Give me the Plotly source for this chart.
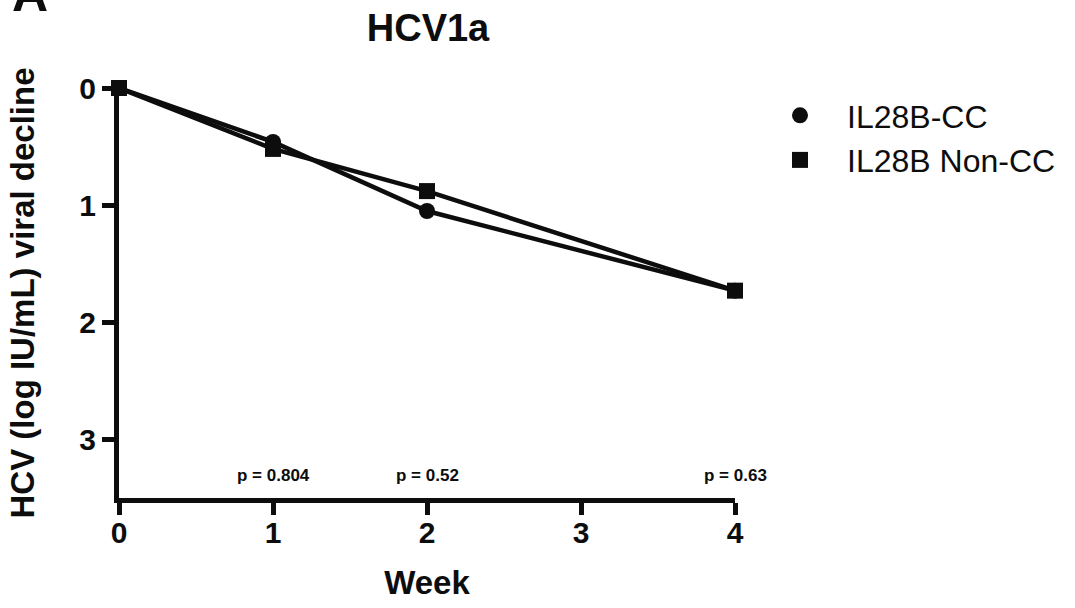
import plotly.graph_objects as go

weeks = [0, 1, 2, 4]
cc_decline = [0, 0.46, 1.05, 1.73]
noncc_decline = [0, 0.52, 0.88, 1.73]
p_weeks = [1, 2, 4]
p_labels = ["p = 0.804", "p = 0.52", "p = 0.63"]
p_level = 3.31
x_ticks = [0, 1, 2, 3, 4]
y_ticks = [0, 1, 2, 3]

FONT = "Liberation Sans, Arial, Helvetica, sans-serif"
BLACK = "#0d0d0d"

L, R, T, B = 119, 340, 88, 110
PW = 1075 - L - R
PH = 608 - T - B

fig = go.Figure()
fig.add_trace(go.Scatter(x=weeks, y=cc_decline, mode="lines+markers", name="IL28B-CC",
                         line=dict(color=BLACK, width=4.5),
                         marker=dict(symbol="circle", size=16, color=BLACK),
                         showlegend=False, cliponaxis=False))
fig.add_trace(go.Scatter(x=weeks, y=noncc_decline, mode="lines+markers", name="IL28B Non-CC",
                         line=dict(color=BLACK, width=4.5),
                         marker=dict(symbol="square", size=16, color=BLACK),
                         showlegend=False, cliponaxis=False))
# legend-only marker entries
fig.add_trace(go.Scatter(x=[None], y=[None], mode="markers", name="IL28B-CC",
                         marker=dict(symbol="circle", size=18, color=BLACK)))
fig.add_trace(go.Scatter(x=[None], y=[None], mode="markers", name="IL28B Non-CC",
                         marker=dict(symbol="square", size=16, color=BLACK)))

for xw, lab in zip(p_weeks, p_labels):
    fig.add_annotation(x=xw, y=p_level, text=f"<b>{lab}</b>", showarrow=False,
                       font=dict(family=FONT, size=17, color=BLACK),
                       xanchor="center", yanchor="middle")

fig.add_annotation(xref="paper", yref="paper", x=(10 - L) / PW, y=(PH + T - 24) / PH,
                   text="<b>A</b>", showarrow=False, xanchor="left", yanchor="bottom",
                   font=dict(family=FONT, size=50, color=BLACK))

fig.update_layout(
    width=1075, height=608,
    margin=dict(l=L, r=R, t=T, b=B, autoexpand=False),
    paper_bgcolor="white", plot_bgcolor="white",
    title=dict(text="<b>HCV1a</b>", x=428 / 1075, xanchor="center", y=1 - 28 / 608, yanchor="middle",
               font=dict(family=FONT, size=38, color=BLACK)),
    font=dict(family=FONT, color=BLACK),
    legend=dict(x=(753 - L) / PW, y=1.0, xanchor="left", yanchor="top",
                font=dict(family=FONT, size=32, color=BLACK),
                itemwidth=84, itemsizing="trace", bgcolor="rgba(0,0,0,0)"),
    xaxis=dict(range=[0, 4], tickvals=x_ticks, ticktext=[f"<b>{t}</b>" for t in x_ticks],
               showgrid=False, zeroline=False, showline=True, linecolor=BLACK, linewidth=5,
               ticks="outside", ticklen=12, tickwidth=5, tickcolor=BLACK,
               ticklabelstandoff=-8,
               tickfont=dict(family=FONT, size=30, color=BLACK),
               title=dict(text="<b>Week</b>", font=dict(family=FONT, size=33, color=BLACK), standoff=24)),
    yaxis=dict(range=[3.5, 0], tickvals=y_ticks, ticktext=[f"<b>{t}</b>" for t in y_ticks],
               showgrid=False, zeroline=False, showline=True, linecolor=BLACK, linewidth=5,
               ticks="outside", ticklen=12, tickwidth=5, tickcolor=BLACK,
               tickfont=dict(family=FONT, size=30, color=BLACK),
               title=dict(text="<b>HCV (log IU/mL) viral decline</b>",
                          font=dict(family=FONT, size=33, color=BLACK), standoff=36)),
)

fig.write_html("out.html")
